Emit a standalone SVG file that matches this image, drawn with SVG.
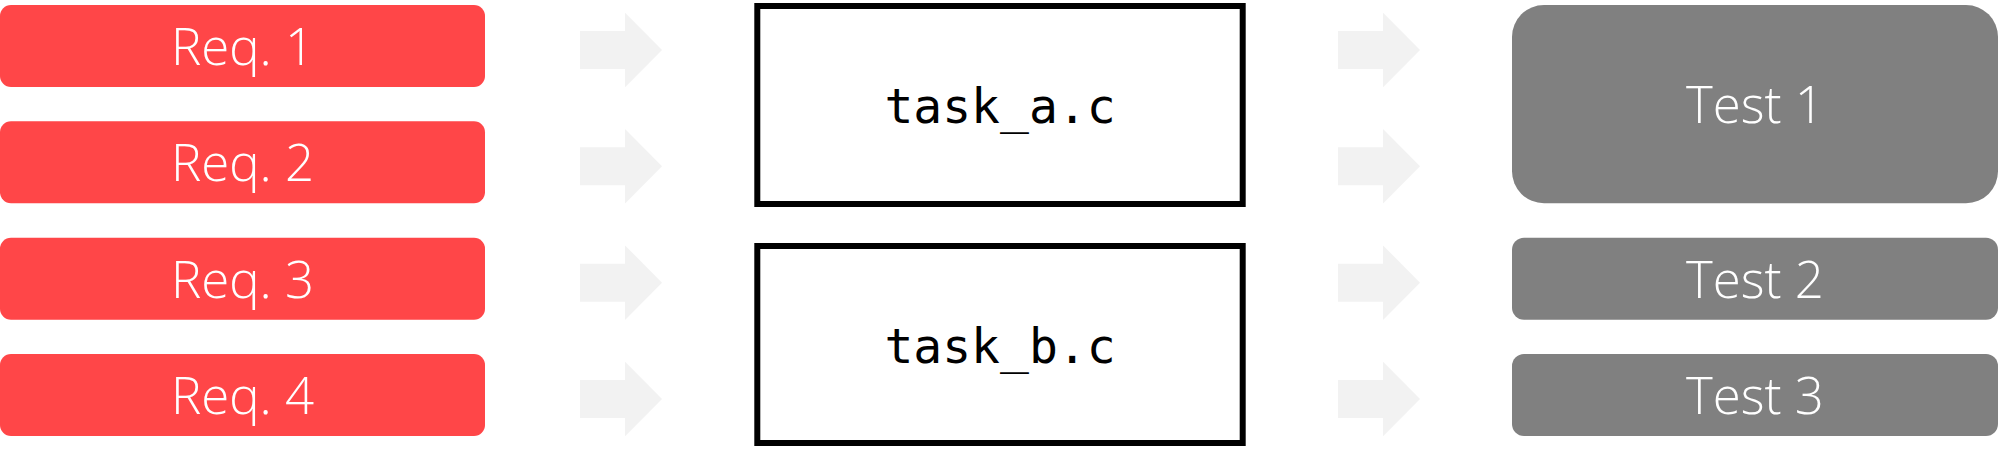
<svg xmlns="http://www.w3.org/2000/svg" width="2000" height="457" viewBox="0 0 2000 457">
<style>
.req{fill:#ff4648}
.test{fill:#808080}
.src{fill:#ffffff;stroke:#000000;stroke-width:6}
.arr{fill:#f2f2f2}
.lbl{font-family:"Open Sans","Liberation Sans",sans-serif;font-weight:300;font-size:51px;fill:#ffffff;text-anchor:middle}
.code{font-family:"DejaVu Sans Mono","Liberation Mono",monospace;font-size:48px;fill:#000000;text-anchor:middle}
</style>
<defs>
<path id="arrow" d="M0,-19 H45 V-37.3 L82,0 L45,37.3 V19 H0 Z"/>
</defs>
<g id="req1"><rect class="req" x="0" y="5" width="485" height="82" rx="11"/><text class="lbl" x="242.5" y="65">Req. 1</text></g>
<g id="req2"><rect class="req" x="0" y="121.3" width="485" height="82" rx="11"/><text class="lbl" x="242.5" y="181.3">Req. 2</text></g>
<g id="req3"><rect class="req" x="0" y="237.7" width="485" height="82" rx="11"/><text class="lbl" x="242.5" y="297.7">Req. 3</text></g>
<g id="req4"><rect class="req" x="0" y="354" width="485" height="82" rx="11"/><text class="lbl" x="242.5" y="414">Req. 4</text></g>
<g id="connectors">
<use href="#arrow" class="arr" x="580" y="50"/>
<use href="#arrow" class="arr" x="580" y="166.3"/>
<use href="#arrow" class="arr" x="580" y="282.7"/>
<use href="#arrow" class="arr" x="580" y="399"/>
<use href="#arrow" class="arr" x="1338" y="50"/>
<use href="#arrow" class="arr" x="1338" y="166.3"/>
<use href="#arrow" class="arr" x="1338" y="282.7"/>
<use href="#arrow" class="arr" x="1338" y="399"/>
</g>
<g id="task_a"><rect class="src" x="757.3" y="6" width="485.4" height="198"/><text class="code" x="1000" y="123">task_a.c</text></g>
<g id="task_b"><rect class="src" x="757.3" y="246" width="485.4" height="197"/><text class="code" x="1000" y="363">task_b.c</text></g>
<g id="test1"><rect class="test" x="1512" y="5" width="486" height="198.3" rx="32"/><text class="lbl" x="1755" y="123">Test 1</text></g>
<g id="test2"><rect class="test" x="1512" y="237.7" width="486" height="82" rx="12"/><text class="lbl" x="1755" y="297.7">Test 2</text></g>
<g id="test3"><rect class="test" x="1512" y="354" width="486" height="82" rx="12"/><text class="lbl" x="1755" y="414">Test 3</text></g>
</svg>
